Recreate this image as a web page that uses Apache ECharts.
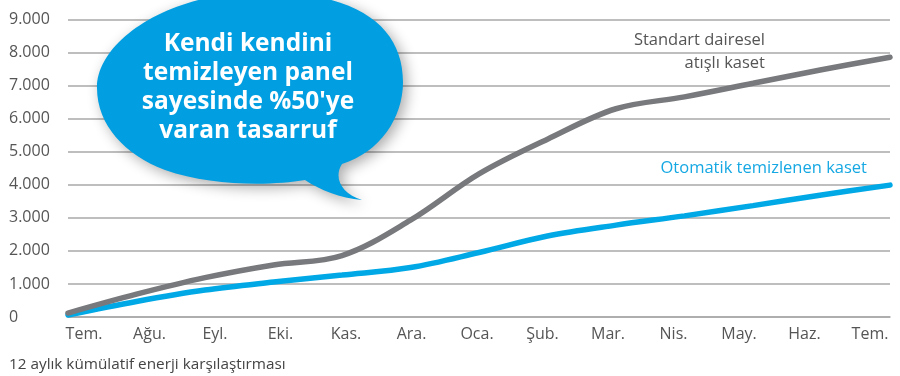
<!DOCTYPE html>
<html>
<head>
<meta charset="utf-8">
<script src="https://cdn.jsdelivr.net/npm/echarts@6/dist/echarts.min.js"></script>
<style>
  html, body { margin: 0; padding: 0; background: #ffffff; }
  #chart { width: 900px; height: 376px; }
</style>
</head>
<body>
<div id="chart"></div>
<script>
// Months of the 12-month comparison period (July to July)
const months = ['Tem.', 'Ağu.', 'Eyl.', 'Eki.', 'Kas.', 'Ara.', 'Oca.', 'Şub.', 'Mar.', 'Nis.', 'May.', 'Haz.', 'Tem.'];

// Cumulative energy use per month
const standardCassette = [120, 690, 1190, 1575, 1860, 2930, 4330, 5380, 6300, 6660, 7070, 7480, 7860];
const selfCleaningCassette = [60, 470, 815, 1057, 1270, 1495, 1950, 2450, 2780, 3060, 3370, 3690, 3990];

// Y-axis tick labels (Turkish thousands separator)
const yTickLabels = ['0', '1.000', '2.000', '3.000', '4.000', '5.000', '6.000', '7.000', '8.000', '9.000'];

const FONT = '"Open Sans", "Noto Sans", sans-serif';
const GRID_COLOR = '#a9a9a9';
const TEXT_COLOR = '#555555';
const GRAY = '#78797c';
const BLUE = '#00a9e6';
const BUBBLE = '#019fe1';

// outline of the speech bubble with its tail
const BUBBLE_PATH =
  'M 97 88 ' +
  'C 97 40 170 -8 262 -8 ' +
  'C 360 -8 403 28 403 82 ' +
  'C 403 118 380 152 342 164 ' +
  'C 333 178 342 194 362 200 ' +
  'C 340 198 320 190 305 180 ' +
  'C 270 186 210 186 165 170 ' +
  'C 125 155 97 125 97 88 Z';

const chart = echarts.init(document.getElementById('chart'), null, { renderer: 'canvas' });

chart.setOption({
  animation: false,
  backgroundColor: '#ffffff',
  textStyle: { fontFamily: FONT },
  grid: [
    { left: 68, right: 10, top: 19.5, bottom: 59 },
    { left: 84, right: 30, top: 19.5, bottom: 59 }
  ],
  xAxis: [
    {
      gridIndex: 0,
      type: 'category',
      data: months,
      boundaryGap: false,
      axisLine: { show: true, lineStyle: { color: GRID_COLOR, width: 1.5 } },
      axisTick: { show: false },
      axisLabel: { show: false },
      splitLine: { show: false }
    },
    {
      gridIndex: 1,
      type: 'category',
      data: months,
      boundaryGap: false,
      axisLine: { show: false },
      axisTick: { show: false },
      splitLine: { show: false },
      axisLabel: {
        show: true,
        interval: 0,
        margin: 9,
        color: TEXT_COLOR,
        fontSize: 16,
        fontFamily: FONT
      }
    }
  ],
  yAxis: [
    {
      gridIndex: 0,
      type: 'value',
      min: 0,
      max: 9000,
      interval: 1000,
      axisLine: { show: false },
      axisTick: { show: false },
      splitLine: { show: true, lineStyle: { color: GRID_COLOR, width: 1.5 } },
      axisLabel: {
        align: 'left',
        margin: 59,
        color: TEXT_COLOR,
        fontSize: 16,
        fontFamily: FONT,
        formatter: function (v) { return yTickLabels[Math.round(v / 1000)]; }
      }
    },
    { gridIndex: 1, type: 'value', min: 0, max: 9000, show: false }
  ],
  series: [
    {
      name: 'Otomatik temizlenen kaset',
      type: 'line',
      xAxisIndex: 0,
      yAxisIndex: 0,
      data: selfCleaningCassette,
      smooth: 0.35,
      symbol: 'none',
      lineStyle: { color: BLUE, width: 5.5, cap: 'round' },
      z: 3
    },
    {
      name: 'Standart dairesel atışlı kaset',
      type: 'line',
      xAxisIndex: 0,
      yAxisIndex: 0,
      data: standardCassette,
      smooth: 0.35,
      symbol: 'none',
      lineStyle: { color: GRAY, width: 5.5, cap: 'round' },
      z: 4
    },
    {
      // speech bubble callout
      type: 'custom',
      coordinateSystem: 'none',
      silent: true,
      z: 100,
      data: [0],
      renderItem: function () {
        return {
          type: 'group',
          children: [
            {
              type: 'path',
              shape: { pathData: BUBBLE_PATH },
              style: {
                fill: BUBBLE,
                shadowBlur: 14,
                shadowColor: 'rgba(0,0,0,0.33)',
                shadowOffsetX: 4,
                shadowOffsetY: 4
              }
            },
            {
              type: 'text',
              x: 248,
              y: 88,
              style: {
                text: "Kendi kendini\ntemizleyen panel\nsayesinde %50'ye\nvaran tasarruf",
                fill: '#ffffff',
                font: 'bold 24.5px ' + FONT,
                align: 'center',
                verticalAlign: 'middle',
                lineHeight: 29
              }
            }
          ]
        };
      }
    }
  ],
  graphic: [
    // series names
    {
      type: 'text',
      z: 50,
      x: 765,
      y: 51.5,
      style: {
        text: 'Standart dairesel\natışlı kaset',
        fill: TEXT_COLOR,
        font: '16.5px ' + FONT,
        align: 'right',
        verticalAlign: 'middle',
        lineHeight: 23
      }
    },
    {
      type: 'text',
      z: 50,
      x: 867,
      y: 168.5,
      style: {
        text: 'Otomatik temizlenen kaset',
        fill: '#16a8e3',
        font: '16.5px ' + FONT,
        align: 'right',
        verticalAlign: 'middle'
      }
    },
    // caption
    {
      type: 'text',
      z: 50,
      x: 9,
      y: 365,
      style: {
        text: '12 aylık kümülatif enerji karşılaştırması',
        fill: '#444444',
        font: '15.3px ' + FONT,
        align: 'left',
        verticalAlign: 'middle'
      }
    }
  ]
});
</script>
</body>
</html>
